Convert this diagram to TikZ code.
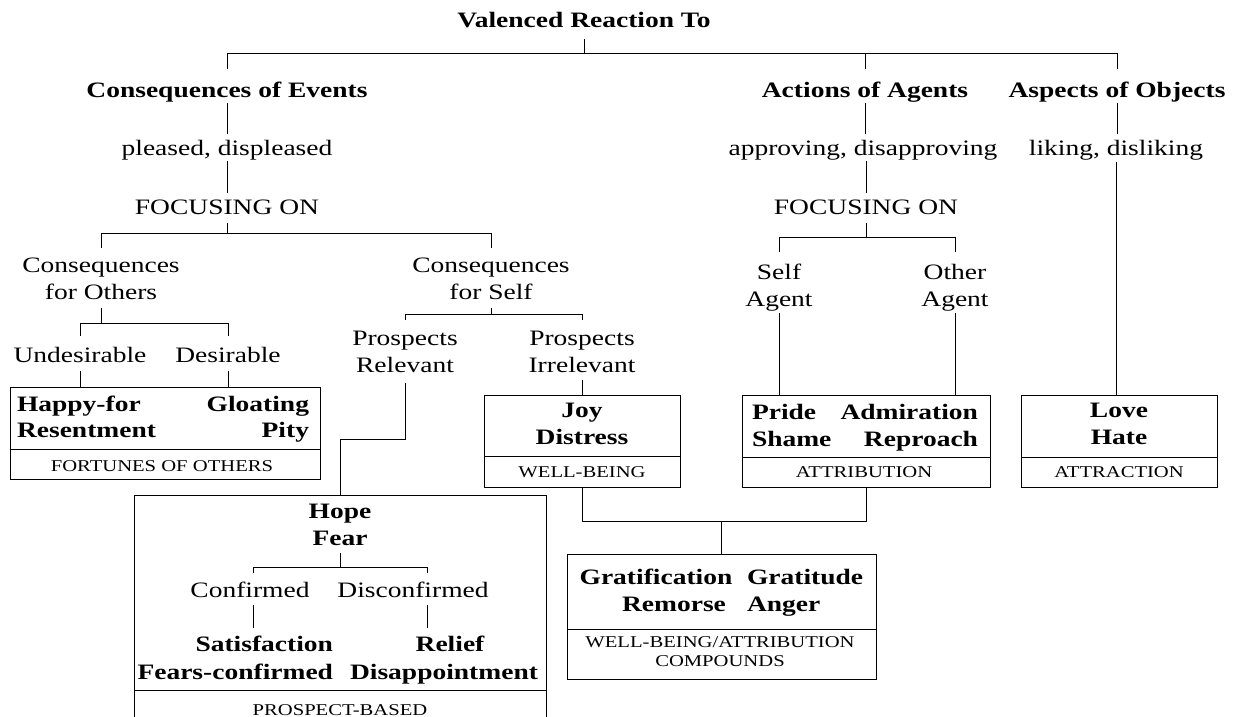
\documentclass[tikz,border=0pt]{standalone}
\usepackage{fontspec}
\setmainfont{Liberation Serif}[FakeStretch=1.25]
\newcommand\nextline{\\\strut}
\tikzset{
  every node/.style={inner sep=0pt, outer sep=0pt},
  lbl/.style={font=\fontsize{22}{27}\selectfont, align=center, execute at begin node=\strut},
  hd/.style={lbl, font=\fontsize{22}{27}\selectfont\bfseries},
  capt/.style={font=\fontsize{16.5}{19}\selectfont, align=center},
  box/.style={draw, line width=1pt},
  ln/.style={line width=1pt}
}
\begin{document}
\begin{tikzpicture}[x=1pt,y=-1pt]
\useasboundingbox[fill=white] (0,0) rectangle (1237,717);

% ---------- top level ----------
\node[hd] (title) at (584,22) {Valenced Reaction To};
\node[hd] (cev) at (227,92) {Consequences of Events};
\node[hd] (aoa) at (865,92) {Actions of Agents};
\node[hd] (aoo) at (1117,92) {Aspects of Objects};

\node[lbl] (pl) at (227,150) {pleased, displeased};
\node[lbl] (ap) at (863,150) {approving, disapproving};
\node[lbl] (lk) at (1116,150) {liking, disliking};

\node[lbl] (foc1) at (227,209) {FOCUSING ON};
\node[lbl] (foc2) at (866,209) {FOCUSING ON};

% ---------- second level ----------
\node[lbl] (cfo) at (101,283) {Consequences\nextline for Others};
\node[lbl] (cfs) at (491,282.5) {Consequences\nextline for Self};
\node[lbl] (sa) at (779,289.5) {Self\nextline Agent};
\node[lbl] (oa) at (955,289.5) {Other\nextline Agent};

\node[lbl] (und) at (80,357) {Undesirable};
\node[lbl] (des) at (228,357) {Desirable};
\node[lbl] (pr) at (405,356) {Prospects\nextline Relevant};
\node[lbl] (pi) at (582,356) {Prospects\nextline Irrelevant};

% ---------- emotion boxes ----------
\node[box, minimum width=310pt, minimum height=92pt] (fort) at (165,433) {};
\draw[ln] (fort.west |- 0,449) -- (fort.east |- 0,449);
\node[hd, anchor=west] (happy) at (17,406) {Happy-for};
\node[hd, anchor=west] (resent) at (17,432) {Resentment};
\node[hd, anchor=east] (gloat) at (309,406) {Gloating};
\node[hd, anchor=east] (pity) at (309,432) {Pity};
\node[capt] (fortc) at (162,466) {FORTUNES OF OTHERS};

\node[box, minimum width=196pt, minimum height=92pt] (joy) at (582,441) {};
\draw[ln] (joy.west |- 0,456) -- (joy.east |- 0,456);
\node[hd] (joyt) at (582,427.5) {Joy\nextline Distress};
\node[capt] (joyc) at (582,472) {WELL-BEING};

\node[box, minimum width=248pt, minimum height=92pt] (attr) at (866,441) {};
\draw[ln] (attr.west |- 0,457) -- (attr.east |- 0,457);
\node[hd, anchor=west] (pride) at (752,414) {Pride};
\node[hd, anchor=west] (shame) at (752,441) {Shame};
\node[hd, anchor=east] (admir) at (978,414) {Admiration};
\node[hd, anchor=east] (repr) at (978,441) {Reproach};
\node[capt] (attrc) at (864,472) {ATTRIBUTION};

\node[box, minimum width=196pt, minimum height=92pt] (love) at (1119,441) {};
\draw[ln] (love.west |- 0,457) -- (love.east |- 0,457);
\node[hd] (lovet) at (1119,427.5) {Love\nextline Hate};
\node[capt] (lovec) at (1119,472) {ATTRACTION};

\node[box, minimum width=309pt, minimum height=125pt] (grat) at (721.5,616.5) {};
\draw[ln] (grat.west |- 0,629) -- (grat.east |- 0,629);
\node[hd] (gratif) at (656,579) {Gratification};
\node[hd, anchor=west] (gratit) at (747,579) {Gratitude};
\node[hd] (remor) at (674,606) {Remorse};
\node[hd, anchor=west] (anger) at (747,606) {Anger};
\node[capt] (gratc) at (720,652) {WELL-BEING/ATTRIBUTION\\COMPOUNDS};

\node[box, minimum width=412pt, minimum height=245pt] (hope) at (340,617.5) {};
\draw[ln] (hope.west |- 0,690) -- (hope.east |- 0,690);
\node[hd] (hopet) at (340,529) {Hope\nextline Fear};
\node[lbl] (conf) at (250,592) {Confirmed};
\node[lbl] (disc) at (413,592) {Disconfirmed};
\node[hd, anchor=east] (satis) at (333,646) {Satisfaction};
\node[hd, anchor=east] (fearc) at (333,674) {Fears-confirmed};
\node[hd] (relief) at (450,646) {Relief};
\node[hd] (disap) at (444,674) {Disappointment};
\node[capt] (hopec) at (340,710) {PROSPECT-BASED};
\coordinate (cfk) at (253,567);
\coordinate (dck) at (427,567);

% ---------- connectors ----------
\draw[ln] (title |- 0,39) -- (title |- 0,54);
\draw[ln] (cev |- 0,69) -- (cev |- 0,54) -- (aoo |- 0,54) -- (aoo |- 0,69);
\draw[ln] (aoa |- 0,54) -- (aoa |- 0,69);

\draw[ln] (cev |- 0,103) -- (cev |- 0,134);
\draw[ln] (aoa |- 0,103) -- (aoa |- 0,134);
\draw[ln] (aoo |- 0,103) -- (aoo |- 0,134);

\draw[ln] (pl |- 0,161) -- (pl |- 0,193);
\draw[ln] (foc2 |- 0,161) -- (foc2 |- 0,193);
\draw[ln] (lk |- 0,162) -- (lk |- love.north);

\draw[ln] (foc1 |- 0,223) -- (foc1 |- 0,233);
\draw[ln] (cfo |- 0,248) -- (cfo |- 0,233) -- (cfs |- 0,233) -- (cfs |- 0,248);
\draw[ln] (foc2 |- 0,223) -- (foc2 |- 0,237);
\draw[ln] (sa |- 0,252) -- (sa |- 0,237) -- (oa |- 0,237) -- (oa |- 0,252);

\draw[ln] (cfo |- 0,308) -- (cfo |- 0,323);
\draw[ln] (und |- 0,336) -- (und |- 0,323) -- (des |- 0,323) -- (des |- 0,336);
\draw[ln] (und |- 0,371) -- (und |- fort.north);
\draw[ln] (des |- 0,371) -- (des |- fort.north);

\draw[ln] (cfs |- 0,308) -- (cfs |- 0,314);
\draw[ln] (pr |- 0,320) -- (pr |- 0,314) -- (pi |- 0,314) -- (pi |- 0,320);
\draw[ln] (pi |- 0,380) -- (pi |- joy.north);
\draw[ln] (pr |- 0,383) -- (pr |- 0,439) -| (hope.north);

\draw[ln] (sa |- 0,313) -- (sa |- attr.north);
\draw[ln] (oa |- 0,313) -- (oa |- attr.north);

\draw[ln] (joy.south) -- (joy.south |- 0,521) -| (attr.south);
\draw[ln] (grat.north |- 0,521) -- (grat.north);

\draw[ln] (hopet |- 0,553) -- (hopet |- cfk);
\draw[ln] (cfk |- 0,573) -- (cfk) -- (dck) -- (dck |- 0,573);
\draw[ln] (cfk |- 0,605) -- (cfk |- 0,628);
\draw[ln] (dck |- 0,605) -- (dck |- 0,628);
\end{tikzpicture}
\end{document}
